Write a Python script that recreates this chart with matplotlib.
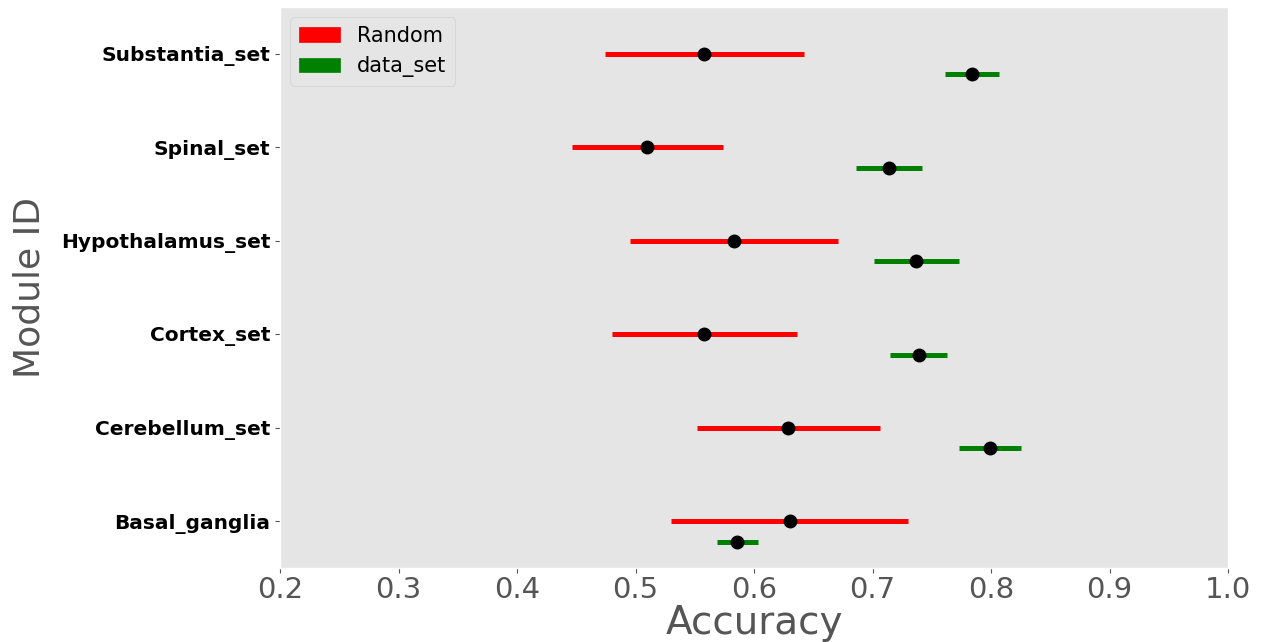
import numpy as np
import matplotlib.pyplot as plt
from matplotlib.patches import Patch

plt.style.use('ggplot')

modules = ["Basal_ganglia", "Cerebellum_set", "Cortex_set",
           "Hypothalamus_set", "Spinal_set", "Substantia_set"]

random_mean = [0.630, 0.629, 0.558, 0.583, 0.510, 0.558]
random_err = [0.100, 0.077, 0.078, 0.088, 0.064, 0.084]

data_mean = [0.586, 0.799, 0.739, 0.737, 0.714, 0.784]
data_err = [0.017, 0.026, 0.024, 0.036, 0.028, 0.023]

y = np.arange(len(modules))
offset = 0.22

fig = plt.figure(figsize=(12.69, 6.42), dpi=100)
ax = fig.add_axes([0.2207, 0.1153, 0.7470, 0.8737])
ax.grid(False)

ax.errorbar(random_mean, y, xerr=random_err, fmt='o', color='black',
            ecolor='red', elinewidth=3.6, markersize=9, capsize=0, zorder=3)
ax.errorbar(data_mean, y - offset, xerr=data_err, fmt='o', color='black',
            ecolor='green', elinewidth=3.6, markersize=9, capsize=0, zorder=3)

ax.set_xlim(0.2, 1.0)
ax.set_ylim(-0.5, 5.5)
ax.set_xticks(np.arange(0.2, 1.01, 0.1))
ax.set_xticklabels([f"{v:.1f}" for v in np.arange(0.2, 1.01, 0.1)])
ax.tick_params(axis='x', labelsize=21, labelcolor='#555555', pad=2)
ax.set_yticks(y)
ax.set_yticklabels(modules, fontsize=14.5, fontweight='bold', color='black')

ax.set_xlabel("Accuracy", fontsize=28, color='#555555', labelpad=0)
ax.set_ylabel("Module ID", fontsize=26, color='#555555', labelpad=10)

handles = [Patch(color='red', label='Random'), Patch(color='green', label='data_set')]
ax.legend(handles=handles, loc='upper left', fontsize=15)

fig.savefig("out.png", dpi=100)
